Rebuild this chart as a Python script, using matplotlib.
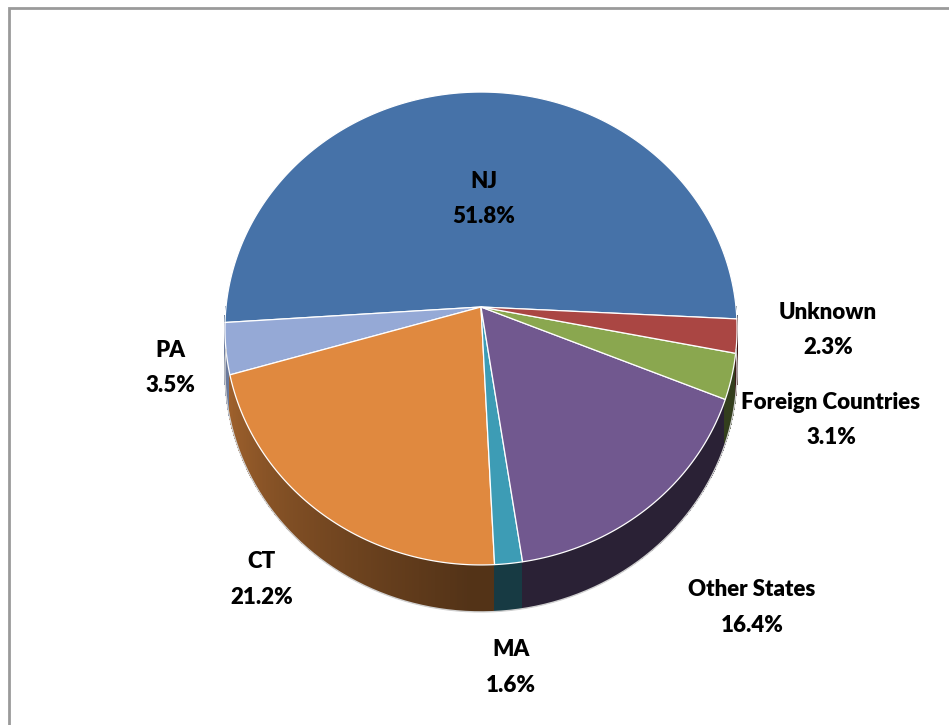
import numpy as np
import matplotlib
matplotlib.use("Agg")
import matplotlib.pyplot as plt
from matplotlib.patches import Polygon, Rectangle
import matplotlib.colors as mcolors

# ---------------- data ----------------
categories = ["NJ", "PA", "CT", "MA", "Other States", "Foreign Countries", "Unknown"]
shares = [51.8, 3.5, 21.2, 1.6, 16.4, 3.1, 2.3]
slice_colors = ["#4672A8", "#95A9D6", "#E0893F", "#3D9CB5", "#71588F", "#8AA74F", "#AA4643"]
# label block positions (pixel layout, first line centre)
label_xy = [(484, 181), (170, 350), (262, 562), (511, 650), (752, 590), (831, 402), (828, 312)]

# ---------------- layout ----------------
W, H = 949, 725
fig = plt.figure(figsize=(W / 100, H / 100), dpi=100)
ax = fig.add_axes([0, 0, 1, 1])
ax.set_xlim(0, W)
ax.set_ylim(H, 0)
ax.axis("off")

cx, cy = 481.0, 307.0
rx, ry, k = 255.0, 234.5, 0.0909
depth0 = 42.7
start = -2.9


def proj(theta_deg, r=1.0, dz=0.0):
    t = np.radians(theta_deg)
    u = r * np.cos(t)
    v = r * np.sin(t)
    s = 1.0 / (1.0 + k * v)
    return cx + rx * u * s, cy - ry * v * s + dz * s


def shade_factor(theta):
    th = np.mod(theta, 360.0)
    return 0.37 + 0.37 * np.clip((268.0 - th) / 78.0, 0, 1)


total = float(np.sum(shares))
bounds = start + 360.0 * np.concatenate([[0.0], np.cumsum(shares)]) / total

# ---- side walls (front half only) ----
front = [(-180.0, 0.0), (180.0, 360.0), (540.0, 720.0)]
for i, col in enumerate(slice_colors):
    a0, a1 = bounds[i], bounds[i + 1]
    base = np.array(mcolors.to_rgb(col))
    for f0, f1 in front:
        s0, s1 = max(a0, f0), min(a1, f1)
        if s1 <= s0:
            continue
        n = max(2, int(np.ceil((s1 - s0) / 0.5)) + 1)
        th = np.linspace(s0, s1, n)
        # whole wall with mean colour (antialiased outline)
        xt, yt = proj(th)
        xb, yb = proj(th, dz=depth0)
        cm = np.clip(base * shade_factor(0.5 * (s0 + s1)), 0, 1)
        ax.add_patch(Polygon(np.column_stack([np.r_[xt, xb[::-1]], np.r_[yt, yb[::-1]]]),
                             closed=True, facecolor=cm, edgecolor="none", lw=0))
        # gradient strips without antialiasing (no seams)
        for j in range(n - 1):
            t2 = np.array([th[j], th[j + 1]])
            xt2, yt2 = proj(t2)
            xb2, yb2 = proj(t2, dz=depth0 - 0.8)
            c = np.clip(base * shade_factor(0.5 * (t2[0] + t2[1])), 0, 1)
            ax.add_patch(Polygon(np.column_stack([np.r_[xt2, xb2[::-1]], np.r_[yt2, yb2[::-1]]]),
                                 closed=True, facecolor=c, edgecolor=c, lw=0.5,
                                 antialiased=False))
# light outline along the bottom rim
thb = np.linspace(180, 360, 200)
xb, yb = proj(thb, dz=depth0)
ax.plot(xb, yb, color="#D0D0D0", lw=1.0)

# ---- top surface ----
for i, col in enumerate(slice_colors):
    a0, a1 = bounds[i], bounds[i + 1]
    th = np.linspace(a0, a1, max(3, int((a1 - a0) * 2)))
    xs, ys = proj(th)
    pts = np.column_stack([np.r_[cx, xs], np.r_[cy, ys]])
    ax.add_patch(Polygon(pts, closed=True, facecolor=col, edgecolor="white", lw=0.9))

# ---- labels ----
fam = ["Lato", "DejaVu Sans"]
for name, val, (lx, ly) in zip(categories, shares, label_xy):
    ax.text(lx, ly, name, ha="center", va="center", fontsize=16, fontweight="heavy",
            family=fam, color="black")
    ax.text(lx, ly + 35, f"{val:.1f}%", ha="center", va="center", fontsize=16,
            fontweight="heavy", family=fam, color="black")

# ---- chart frame ----
fig.patches.append(Rectangle((8.5 / W, -0.1), 1.2, 1.1 - 8.5 / H, transform=fig.transFigure,
                             fill=False, edgecolor="#9A9A9A", lw=2.0))

fig.savefig("out.png", dpi=100, facecolor="white")
